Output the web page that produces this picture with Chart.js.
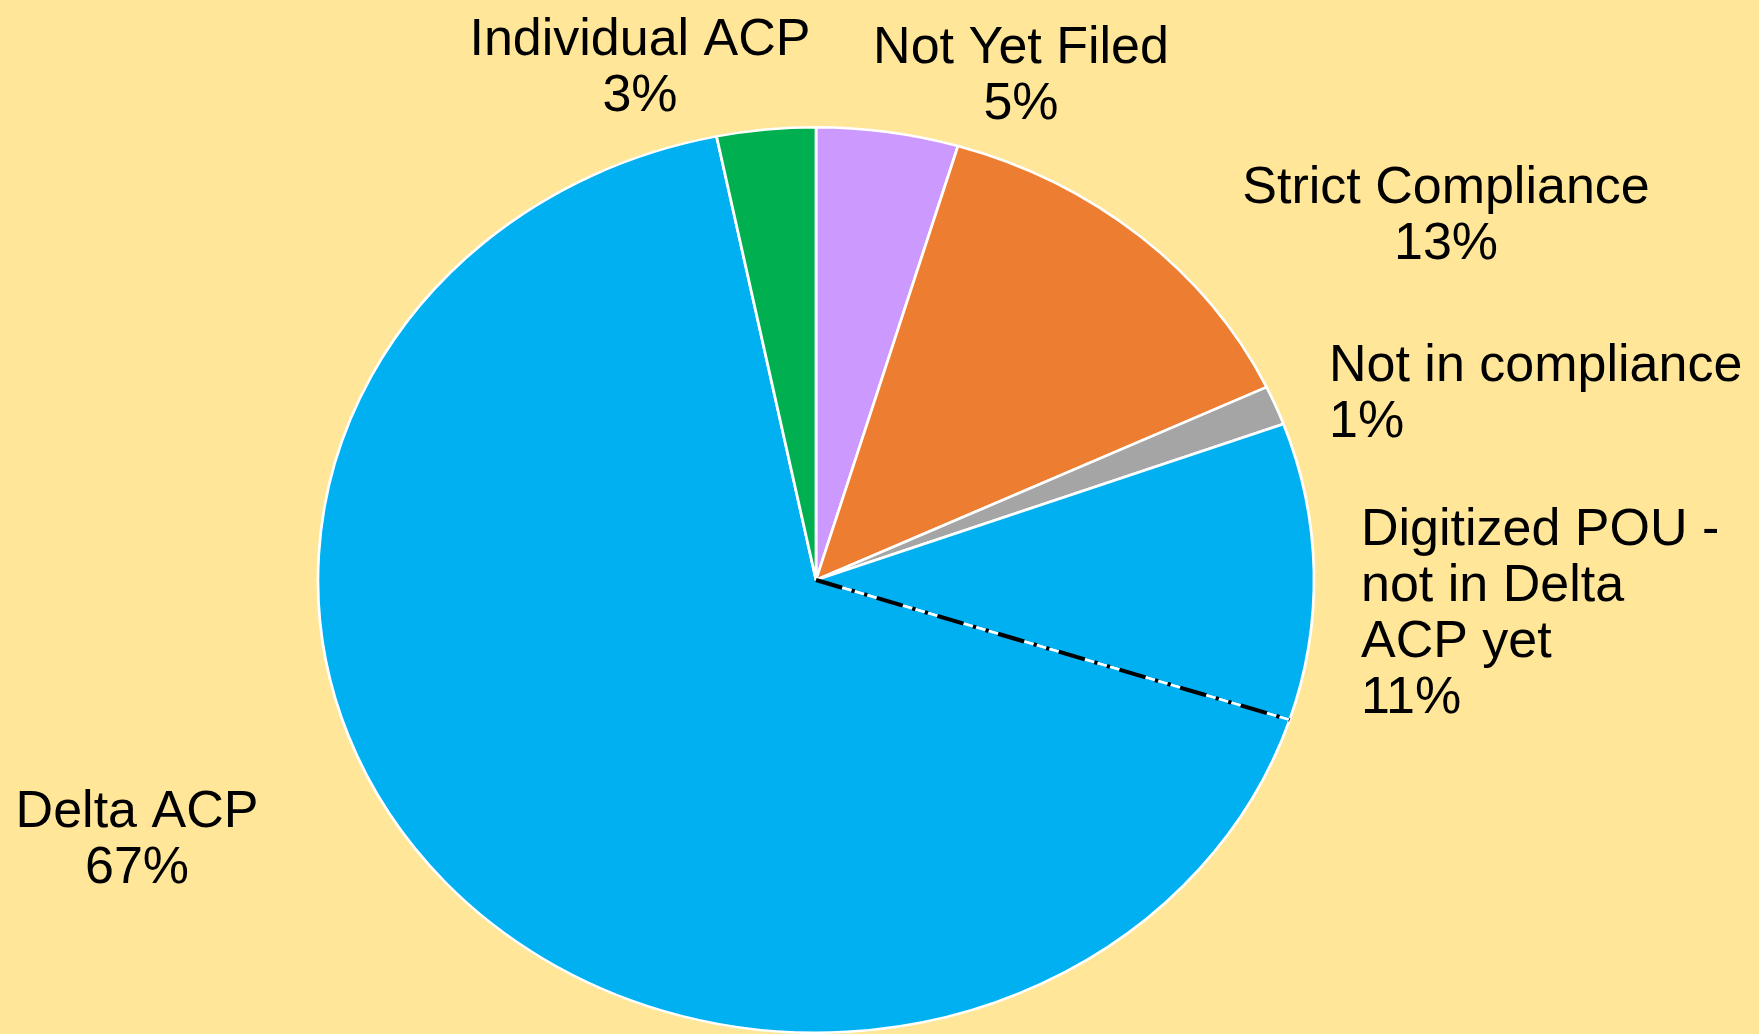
<!DOCTYPE html>
<html>
<head>
<meta charset="utf-8">
<title>ACP status</title>
<script src="https://cdn.jsdelivr.net/npm/chart.js@4/dist/chart.umd.min.js"></script>
<style>
  html, body { margin: 0; padding: 0; background: #FFE699; overflow: hidden; }
  #wrap { width: 1759px; height: 1034px; position: relative; }
</style>
</head>
<body>
<div id="wrap"><canvas id="pie"></canvas></div>
<script>
// slices, clockwise from 12 o'clock
const categories = ['Not Yet Filed', 'Strict Compliance', 'Not in compliance',
  'Digitized POU - not in Delta ACP yet', 'Delta ACP', 'Individual ACP'];
const shares = [4.6, 13.4, 1.4, 10.6, 66.8, 3.2];
const sliceColors = ['#CC99FF', '#ED7D31', '#A5A5A5', '#00B0F0', '#00B0F0', '#00B050'];

// label text lines (percent line is added from the data)
const labelLines = [
  ['Not Yet Filed'],
  ['Strict Compliance'],
  ['Not in compliance'],
  ['Digitized POU -', 'not in Delta', 'ACP yet'],
  ['Delta ACP'],
  ['Individual ACP']
];
// x, first baseline, alignment
const labelPlaces = [
  [1021, 63, 'center'],
  [1446, 203, 'center'],
  [1329, 381, 'left'],
  [1361, 545, 'left'],
  [137, 827, 'center'],
  [640, 55, 'center']
];

const STRETCH_X = 1.1;   // pie is a bit wider than tall
const LINE_H = 56;

function pctText(v) {
  return Math.round(v) + '%';
}

const ellipsePlugin = {
  id: 'ellipse',
  beforeDatasetsDraw(chart) {
    const arc = chart.getDatasetMeta(0).data[0];
    const ctx = chart.ctx;
    ctx.save();
    ctx.translate(arc.x, arc.y);
    ctx.scale(STRETCH_X, 1);
    ctx.translate(-arc.x, -arc.y);
  },
  afterDatasetsDraw(chart) {
    const ctx = chart.ctx;
    // dash-dot edge between the two blue slices
    const arc = chart.getDatasetMeta(0).data[3];
    const a = arc.endAngle;
    const r = arc.outerRadius;
    ctx.beginPath();
    ctx.moveTo(arc.x, arc.y);
    ctx.lineTo(arc.x + Math.cos(a) * r, arc.y + Math.sin(a) * r);
    ctx.strokeStyle = '#000000';
    ctx.lineWidth = 4;
    ctx.setLineDash([25, 9, 3, 9, 3, 9]);
    ctx.stroke();
    ctx.setLineDash([]);
    ctx.restore();
  },
  afterDraw(chart) {
    const ctx = chart.ctx;
    ctx.save();
    ctx.font = '52px "Liberation Sans", Arial, sans-serif';
    ctx.fillStyle = '#000000';
    ctx.textBaseline = 'alphabetic';
    labelLines.forEach((lines, i) => {
      const [x, y, align] = labelPlaces[i];
      const all = [...lines, pctText(shares[i])];
      ctx.textAlign = align;
      all.forEach((t, j) => ctx.fillText(t, x, y + j * LINE_H));
    });
    ctx.restore();
  }
};

new Chart(document.getElementById('pie'), {
  type: 'pie',
  data: {
    labels: categories,
    datasets: [{
      data: shares,
      backgroundColor: sliceColors,
      borderColor: '#FFFFFF',
      borderWidth: 2.5
    }]
  },
  options: {
    responsive: true,
    maintainAspectRatio: false,
    animation: false,
    layout: { padding: { top: 126, bottom: 0, left: 362, right: 489 } },
    plugins: {
      legend: { display: false },
      tooltip: { enabled: false }
    }
  },
  plugins: [ellipsePlugin]
});
</script>
</body>
</html>
